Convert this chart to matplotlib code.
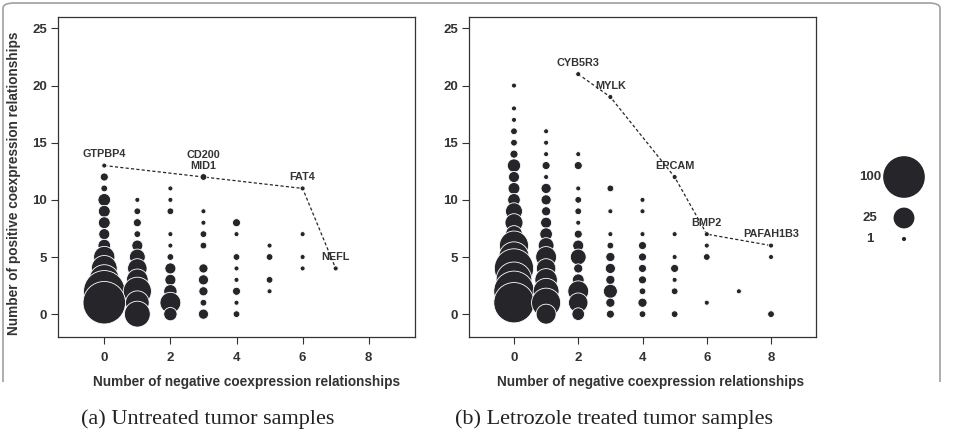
import matplotlib
matplotlib.use("Agg")
import matplotlib.pyplot as plt
from matplotlib.patches import FancyBboxPatch, Rectangle
import numpy as np

# ---------------- data ----------------
# (a) Untreated tumor samples: negative count (x), positive count (y), number of genes (n)
left_x = [0]*13 + [1]*11 + [2]*11 + [3]*10 + [4]*8 + [5]*4 + [6]*4 + [7]
left_y = [13, 12, 11, 10, 9, 8, 7, 6, 5, 4, 3, 2, 1,
          10, 9, 8, 7, 6, 5, 4, 3, 2, 1, 0,
          11, 10, 9, 7, 6, 5, 4, 3, 2, 1, 0,
          12, 9, 8, 7, 6, 4, 3, 2, 1, 0,
          8, 7, 5, 4, 3, 2, 1, 0,
          6, 5, 3, 2,
          11, 7, 5, 4,
          4]
left_n = [1, 3, 2, 8, 7, 7, 6, 8, 24, 36, 50, 95, 100,
          1, 2, 3, 2, 6, 13, 20, 25, 43, 30, 36,
          1, 1, 2, 1, 1, 2, 6, 6, 9, 23, 9,
          2, 1, 1, 2, 2, 4, 5, 4, 2, 5,
          3, 1, 2, 1, 1, 3, 1, 2,
          1, 2, 2, 1,
          1, 1, 1, 1,
          1]
left_genes = ["GTPBP4", "CD200\nMID1", "FAT4", "NEFL"]
left_gene_x = [0, 3, 6, 7]
left_gene_y = [13, 12, 11, 4]

# (b) Letrozole treated tumor samples
right_x = [0]*19 + [1]*17 + [2]*15 + [3]*11 + [4]*10 + [5]*7 + [6]*4 + [7] + [8]*3
right_y = [20, 18, 17, 16, 15, 14, 13, 12, 11, 10, 9, 8, 7, 6, 5, 4, 3, 2, 1,
           16, 15, 14, 13, 12, 11, 10, 9, 8, 7, 6, 5, 4, 3, 2, 1, 0,
           21, 14, 13, 11, 10, 9, 8, 7, 6, 5, 4, 3, 2, 1, 0,
           19, 11, 9, 7, 6, 5, 4, 3, 2, 1, 0,
           10, 9, 7, 6, 5, 4, 3, 2, 1, 0,
           12, 7, 5, 4, 3, 2, 0,
           7, 6, 5, 1,
           2,
           6, 5, 0]
right_n = [1, 1, 1, 2, 2, 3, 9, 6, 7, 8, 15, 17, 15, 46, 50, 85, 70, 90, 90,
           1, 1, 1, 3, 1, 5, 5, 4, 6, 8, 13, 23, 20, 27, 36, 46, 21,
           1, 1, 3, 1, 2, 2, 1, 3, 6, 13, 4, 7, 23, 20, 8,
           1, 2, 1, 1, 2, 4, 5, 4, 10, 4, 3,
           1, 1, 1, 3, 3, 3, 3, 2, 4, 2,
           1, 1, 1, 3, 1, 2, 2,
           1, 1, 2, 1,
           1,
           1, 1, 2]
right_genes = ["CYB5R3", "MYLK", "EPCAM", "BMP2", "PAFAH1B3"]
right_gene_x = [2, 3, 5, 6, 8]
right_gene_y = [21, 19, 12, 7, 6]

legend_counts = [100, 25, 1]
legend_labels = ["100", "25", "1"]

x_ticks = [0, 2, 4, 6, 8]
y_ticks = [0, 5, 10, 15, 20, 25]
xlabel = "Number of negative coexpression relationships"
ylabel = "Number of positive coexpression relationships"
captions = ["(a) Untreated tumor samples", "(b) Letrozole treated tumor samples"]

# ---------------- style ----------------
W, H = 958, 432
DOT = "#26262a"
TXT = "#333333"
SIZE_PER_GENE = 9.0   # marker area (pt^2) per gene
EDGE_LW = 0.6
SANS = ["Liberation Sans", "DejaVu Sans"]
SERIF = ["Liberation Serif", "DejaVu Serif"]

fig = plt.figure(figsize=(W/100, H/100), dpi=100)
fig.patch.set_facecolor("white")

def fx(px):
    return px / W

def fy(py):
    return 1 - py / H

def marker_area(counts, lw=0.0):
    d = np.sqrt(np.asarray(counts, dtype=float) * SIZE_PER_GENE) + lw
    return d ** 2

# outer rounded frame (open at the bottom, fading out near the x-labels)
frame = FancyBboxPatch((fx(3), fy(470)), fx(937), (470 - 3) / H,
                       boxstyle="round,pad=0,rounding_size=0.012",
                       transform=fig.transFigure, fill=False,
                       edgecolor="#a0a0a0", linewidth=1.2)
clip = Rectangle((0, fy(382)), 1, 382 / H, transform=fig.transFigure,
                 visible=False)
fig.patches.append(clip)
fig.patches.append(frame)
frame.set_clip_path(clip)

def panel(rect, xs, ys, ns, genes, gx, gy, show_ylabel, xlab_x):
    ax = fig.add_axes(rect)
    order = np.argsort(-np.asarray(ys), kind="stable")
    xs_o = np.asarray(xs)[order]
    ys_o = np.asarray(ys)[order]
    ns_o = np.asarray(ns)[order]
    ax.scatter(xs_o, ys_o, s=marker_area(ns_o, EDGE_LW), c=DOT,
               edgecolors="white", linewidths=EDGE_LW, zorder=3)
    ax.plot(gx, gy, linestyle=(0, (2.5, 1.8)), color=DOT, linewidth=0.9, zorder=2)
    for g, x, y in zip(genes, gx, gy):
        ax.text(x, y + 0.55, g, ha="center", va="bottom", fontsize=7.8,
                fontweight="bold", family=SANS, color=TXT, zorder=4,
                linespacing=1.05)
    ax.set_xlim(-1.4, 9.4)
    ax.set_ylim(-2, 26)
    ax.set_xticks(x_ticks)
    ax.set_yticks(y_ticks)
    ax.tick_params(direction="out", length=5, width=0.8, color=TXT,
                   labelsize=9.5, pad=3)
    for lab in ax.get_xticklabels() + ax.get_yticklabels():
        lab.set_family(SANS)
        lab.set_fontweight("bold")
        lab.set_color(TXT)
    ax.tick_params(axis="x", pad=6)
    for sp in ax.spines.values():
        sp.set_linewidth(0.9)
        sp.set_color(TXT)
    ax.set_xlabel(xlabel, fontsize=9.8, fontweight="bold", family=SANS, color=TXT)
    ax.xaxis.set_label_coords(xlab_x, -0.118)
    if show_ylabel:
        ax.set_ylabel(ylabel, fontsize=9.8, fontweight="bold", family=SANS, color=TXT)
        ax.yaxis.set_label_coords(-0.104, 0.48)
    return ax

axL = panel([fx(58), fy(337), fx(357), 320 / H], left_x, left_y, left_n,
            left_genes, left_gene_x, left_gene_y, True, 0.527)
axR = panel([fx(469), fy(337), fx(347), 320 / H], right_x, right_y, right_n,
            right_genes, right_gene_x, right_gene_y, False, 0.524)

# size key
axK = fig.add_axes([0, 0, 1, 1])
axK.set_xlim(0, W)
axK.set_ylim(H, 0)
axK.axis("off")
key_y = [177, 218, 239]
axK.scatter([904] * len(legend_counts), key_y,
            s=marker_area(legend_counts), c=DOT, edgecolors="none")
for lab, y in zip(legend_labels, key_y):
    axK.text(870, y, lab, ha="center", va="center", fontsize=9.5,
             fontweight="bold", family=SANS, color=TXT)

# captions
fig.text(fx(208), fy(419), captions[0], ha="center", va="center",
         fontsize=16, family=SERIF, color="#222222")
fig.text(fx(614), fy(419), captions[1], ha="center", va="center",
         fontsize=16, family=SERIF, color="#222222")

fig.savefig("out.png", dpi=100, facecolor="white")
